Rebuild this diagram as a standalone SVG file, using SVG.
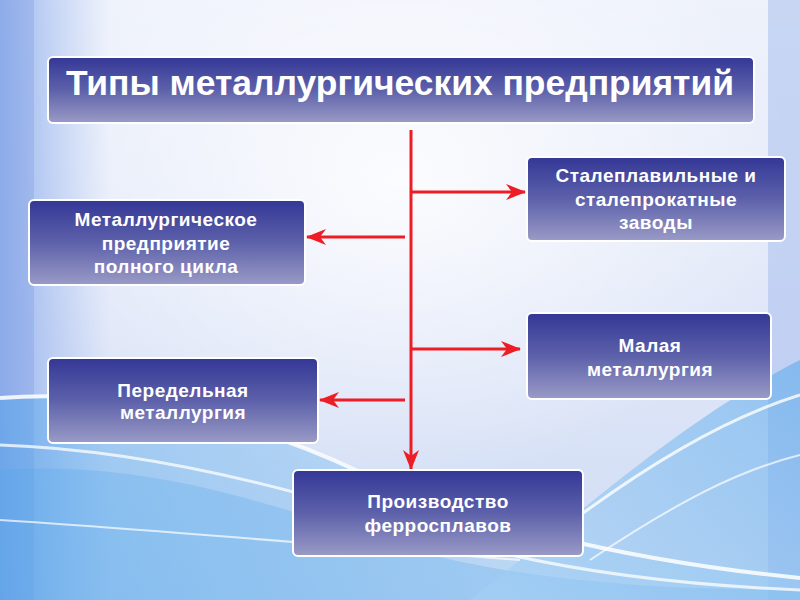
<svg xmlns="http://www.w3.org/2000/svg" width="800" height="600" viewBox="0 0 800 600">
<defs>
<linearGradient id="bg" x1="0" y1="0" x2="0" y2="1">
<stop offset="0" stop-color="#eef2fb"/>
<stop offset="0.55" stop-color="#dfe6f8"/>
<stop offset="1" stop-color="#cfdcf4"/>
</linearGradient>
<radialGradient id="glow" cx="0.5" cy="0.3" r="0.5">
<stop offset="0" stop-color="#ffffff" stop-opacity="0.85"/>
<stop offset="1" stop-color="#ffffff" stop-opacity="0"/>
</radialGradient>
<linearGradient id="leftEdge" x1="0" y1="0" x2="1" y2="0">
<stop offset="0" stop-color="#86a8ea" stop-opacity="0.85"/>
<stop offset="1" stop-color="#9fbaf0" stop-opacity="0"/>
</linearGradient>
<linearGradient id="box" x1="0" y1="0" x2="0" y2="1">
<stop offset="0" stop-color="#333796"/>
<stop offset="0.5" stop-color="#5d61aa"/>
<stop offset="1" stop-color="#9a9bc6"/>
</linearGradient>
<linearGradient id="waveL" x1="0" y1="0" x2="1" y2="0">
<stop offset="0" stop-color="#4aa3ea"/>
<stop offset="0.6" stop-color="#9acdf3"/>
<stop offset="1" stop-color="#c4def6"/>
</linearGradient>
<linearGradient id="waveR" x1="0" y1="1" x2="1" y2="0">
<stop offset="0" stop-color="#a9d3f5"/>
<stop offset="1" stop-color="#4aa3ea"/>
</linearGradient>
<marker id="ah" viewBox="0 0 20 16" refX="19" refY="8" markerWidth="20" markerHeight="16" orient="auto" markerUnits="userSpaceOnUse">
<path d="M0,0 L20,8 L0,16 L6,8 Z" fill="#ee1c24"/>
</marker>
</defs>
<style>
.node rect{fill:url(#box);stroke:#ffffff;stroke-width:2}
.t{font-family:"Liberation Sans",Arial,sans-serif;font-weight:bold;fill:#ffffff;text-anchor:middle}
.nt{font-size:19px;letter-spacing:0.5px}
.conn line{stroke:#ee1c24;stroke-width:3}
</style>
<rect width="800" height="600" fill="url(#bg)"/>
<rect width="800" height="600" fill="url(#glow)"/>
<rect width="110" height="600" fill="url(#leftEdge)"/>
<rect x="0" width="34" height="600" fill="#7f9fe6" opacity="0.35"/>
<rect x="768" width="32" height="600" fill="#aac0ee" opacity="0.55"/>
<path d="M0,400 C120,390 250,420 360,470 C470,520 620,560 800,575 L800,600 L0,600 Z" fill="url(#waveL)" opacity="0.45"/>
<path d="M0,470 C140,460 260,500 380,540 C500,580 650,590 800,590 L800,600 L0,600 Z" fill="#4aa3ea" opacity="0.25"/>
<path d="M470,600 C560,530 680,420 800,360 L800,600 Z" fill="url(#waveR)" opacity="0.5"/>
<path d="M0,398 C120,388 250,420 360,472 C470,522 620,560 800,578" fill="none" stroke="#ffffff" stroke-width="4" opacity="0.85"/>
<path d="M0,445 C150,450 300,490 420,530 C540,570 680,585 800,590" fill="none" stroke="#ffffff" stroke-width="3" opacity="0.75"/>
<path d="M0,520 C160,530 320,545 520,560" fill="none" stroke="#ffffff" stroke-width="2" opacity="0.7"/>
<path d="M560,530 C640,470 720,420 800,395" fill="none" stroke="#ffffff" stroke-width="3" opacity="0.8"/>
<path d="M590,560 C680,500 740,470 800,455" fill="none" stroke="#ffffff" stroke-width="2" opacity="0.7"/>
<g id="title" class="node">
<rect x="48" y="57" width="706" height="66" rx="5"/>
<text class="t" x="400" y="95" font-size="35" textLength="668" lengthAdjust="spacingAndGlyphs">Типы металлургических предприятий</text>
</g>
<g class="conn">
<line x1="411" y1="130" x2="411" y2="469" marker-end="url(#ah)"/>
<line x1="411" y1="192" x2="525" y2="192" marker-end="url(#ah)"/>
<line x1="405" y1="237" x2="307" y2="237" marker-end="url(#ah)"/>
<line x1="411" y1="349" x2="520" y2="349" marker-end="url(#ah)"/>
<line x1="405" y1="400" x2="320" y2="400" marker-end="url(#ah)"/>
</g>
<g id="n1" class="node">
<rect x="527" y="157" width="258" height="84" rx="5"/>
<text class="t nt" x="656" y="182">Сталеплавильные и</text>
<text class="t nt" x="656" y="206">сталепрокатные</text>
<text class="t nt" x="656" y="229">заводы</text>
</g>
<g id="n2" class="node">
<rect x="29" y="200" width="276" height="85" rx="5"/>
<text class="t nt" x="166" y="226">Металлургическое</text>
<text class="t nt" x="166" y="250">предприятие</text>
<text class="t nt" x="166" y="273">полного цикла</text>
</g>
<g id="n3" class="node">
<rect x="527" y="313" width="244" height="86" rx="5"/>
<text class="t nt" x="650" y="352">Малая</text>
<text class="t nt" x="650" y="376">металлургия</text>
</g>
<g id="n4" class="node">
<rect x="48" y="358" width="270" height="85" rx="5"/>
<text class="t nt" x="183" y="397">Передельная</text>
<text class="t nt" x="183" y="419">металлургия</text>
</g>
<g id="n5" class="node">
<rect x="293" y="470" width="290" height="86" rx="5"/>
<text class="t nt" x="438" y="508">Производство</text>
<text class="t nt" x="438" y="532">ферросплавов</text>
</g>
</svg>
